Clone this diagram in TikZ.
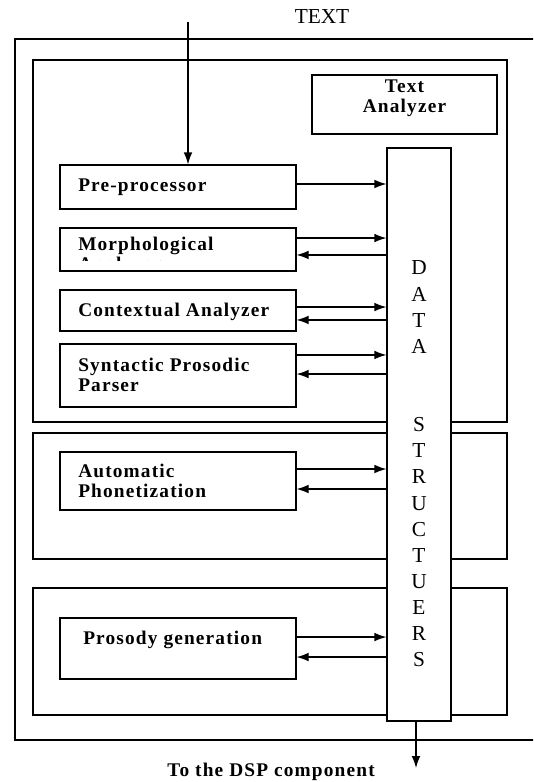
\documentclass[tikz,border=0pt]{standalone}
\usepackage{fontspec}
\setmainfont{Liberation Serif}
\newfontfamily\boxfont{Liberation Serif}[LetterSpace=6]
\usetikzlibrary{arrows.meta,fit}

\tikzset{
  stage/.style={draw, line width=0.9pt, inner sep=0pt},
  lbl/.style={font=\boxfont\bfseries\fontsize{14.5}{15}\selectfont,
              anchor=west, align=left, inner sep=0pt},
  link/.style={line width=0.9pt, -{Latex[length=9pt,width=6.5pt]}},
}

\begin{document}
\begin{tikzpicture}[x=0.75pt, y=-0.75pt]
  \clip (0,0) rectangle (533,782);
  % frame and the three groups
  \node (outer)  [stage, fit={(15,39) (560,740)}] {};
  \node (grp-ta) [stage, fit={(33,60) (507,422)}] {};
  \node (grp-ph) [stage, fit={(33,433) (507,559)}] {};
  \node (grp-pr) [stage, fit={(33,588) (507,715)}] {};
  \node (ta) [stage, lbl, anchor=center, align=center, fit={(312,75) (497,134)}] {Text\\Analyzer};

  % modules
  \node (pre)   [stage, fit={(60,165) (296,209)}] {};
  \node (morph) [stage, fit={(60,228) (296,271)}] {};
  \node (ctx)   [stage, fit={(60,290) (296,331)}] {};
  \node (syn)   [stage, fit={(60,344) (296,407)}] {};
  \node (phon)  [stage, fit={(60,452) (296,510)}] {};
  \node (pros)  [stage, fit={(60,618) (296,679)}] {};

  \node (pre-l) [lbl] at (78,187) {Pre-processor};
  \begin{scope}
    \clip (morph.north west) rectangle ([yshift=8.5pt]morph.south east);
    \node (morph-l) [lbl] at (78,256) {Morphological\\Analyzer};
  \end{scope}
  \node (ctx-l)  [lbl] at (78,312) {Contextual Analyzer};
  \node (syn-l)  [lbl] at (78,375) {Syntactic Prosodic\\Parser};
  \node (phon-l) [lbl] at (78,481) {Automatic\\Phonetization};
  \node (pros-l) [lbl] at (83,640) {Prosody generation};

  % data structures column
  \node (ds) [stage, fill=white, fit={(387,148) (451,721)}] {};
  \node (ds-l) [font=\fontsize{16}{19.6}\selectfont, align=center, inner sep=0pt]
    at (419,464) {D\\A\\T\\A\\\mbox{}\\\mbox{}\\S\\T\\R\\U\\C\\T\\U\\E\\R\\S};

  % input and output
  \node (in-l) [font=\fontsize{16}{19}\selectfont, inner sep=0pt] at (322,17) {TEXT};
  \coordinate (in) at (188,22);
  \draw[link] (in) -- (in |- pre.north);
  \coordinate (out) at (416,768);
  \draw[link] (ds.south -| out) -- (out);
  \node (out-l) [lbl, anchor=center] at (271,772) {To the DSP component};

  % links to the data structures
  \coordinate (s) at ([yshift=2.25pt]pre.east);
  \draw[link] (s) -- (s -| ds.west);
  \foreach \m/\up/\dn in {morph/8.6/-4.1, ctx/2.6/-7.1, syn/15.4/1.1,
                          phon/9/-6, pros/8.6/-6.4} {
    \coordinate (s) at ([yshift=\up pt]\m.east);
    \draw[link] (s) -- (s -| ds.west);
    \coordinate (t) at ([yshift=\dn pt]\m.east);
    \draw[link] (t -| ds.west) -- (t);
  }
\end{tikzpicture}
\end{document}
